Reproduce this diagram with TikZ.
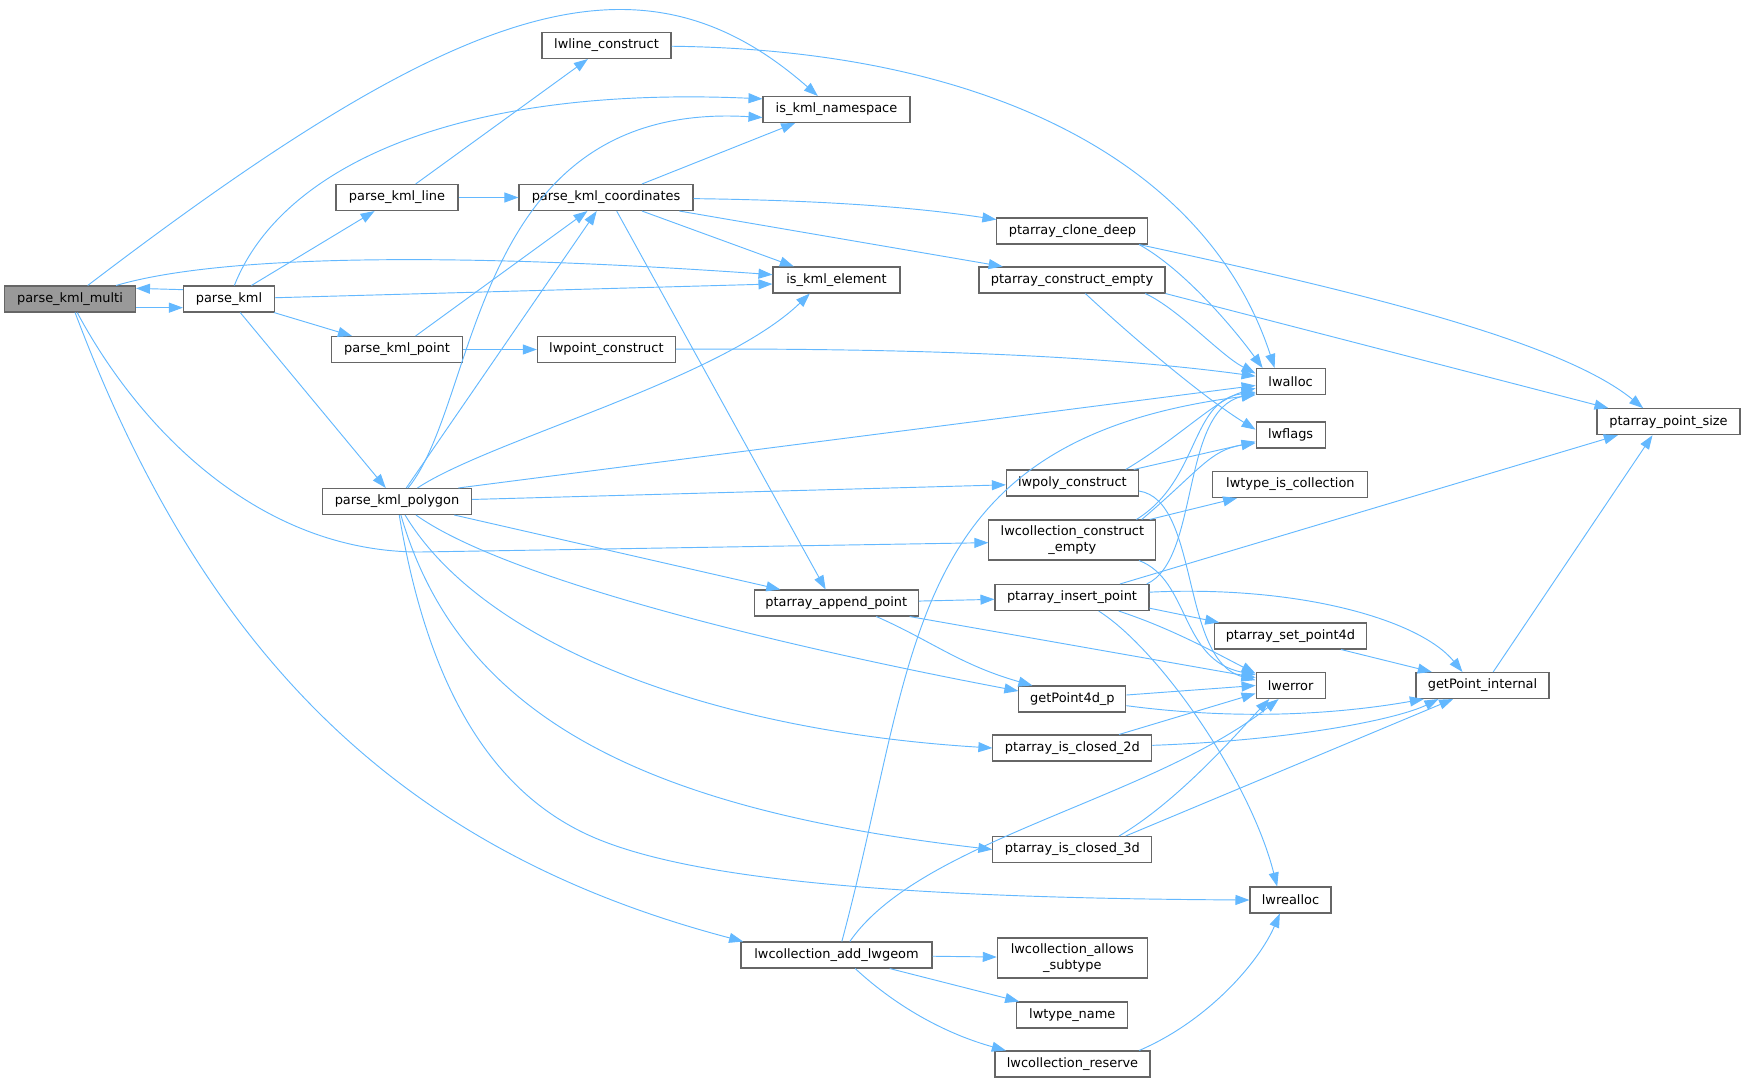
\documentclass[tikz,border=0pt]{standalone}
\usepackage{fontspec}
\setmainfont{DejaVu Sans}
\usetikzlibrary{arrows.meta}
\definecolor{callblue}{HTML}{63B8FF}

\begin{document}
\begin{tikzpicture}[x=0.75pt, y=-0.75pt,
  fn/.style  ={draw=black!60, fill=white, line width=0.8pt, inner sep=0pt,
               minimum height=19.5pt, align=center, font=\fontsize{9.7}{11.5}\selectfont},
  root/.style={fn, fill=black!40},
  bw/.style  ={minimum width=#1*0.75pt},
  tall/.style={minimum height=30pt},
  call/.style={draw=callblue, line width=0.7pt, -{Triangle[length=10.5pt,width=7.5pt]}}]

  \useasboundingbox (0,0) rectangle (1745,1082);

  % ---------------- callers (left) ----------------
  \node[root,bw=131] (multi)  at (70,299)    {parse\_kml\_multi};
  \node[fn,bw=91]    (kml)    at (229,299)   {parse\_kml};
  \node[fn,bw=122]   (kline)  at (397,197.5) {parse\_kml\_line};
  \node[fn,bw=131]   (kpoint) at (397,349.5) {parse\_kml\_point};
  \node[fn,bw=149]   (kpoly)  at (397,501.5) {parse\_kml\_polygon};
  \node[fn,bw=174]   (kcoord) at (606,197.5) {parse\_kml\_coordinates};
  \node[fn,bw=129]   (lwline) at (606.5,45.5){lwline\_construct};
  \node[fn,bw=138]   (lwpoint)at (606.4,349.5){lwpoint\_construct};

  % ---------------- middle column ----------------
  \node[fn,bw=147] (nsp)     at (836.5,109.5) {is\_kml\_namespace};
  \node[fn,bw=127] (elem)    at (836.5,280)   {is\_kml\_element};
  \node[fn,bw=164] (append)  at (836.3,603)   {ptarray\_append\_point};
  \node[fn,bw=191] (addgeom) at (836.5,955)   {lwcollection\_add\_lwgeom};

  \node[fn,bw=151]      (clone)   at (1072.4,231)   {ptarray\_clone\_deep};
  \node[fn,bw=186]      (pce)     at (1072,280)     {ptarray\_construct\_empty};
  \node[fn,bw=132]      (lwpoly)  at (1072.4,483)   {lwpoly\_construct};
  \node[fn,tall,bw=167] (lwce)    at (1072.4,540)   {lwcollection\_construct\\\_empty};
  \node[fn,bw=154]      (insert)  at (1072,597.5)   {ptarray\_insert\_point};
  \node[fn,bw=107]      (gp4d)    at (1072.4,699)   {getPoint4d\_p};
  \node[fn,bw=159]      (closed2) at (1072.4,748)   {ptarray\_is\_closed\_2d};
  \node[fn,bw=159]      (closed3) at (1072.4,849.5) {ptarray\_is\_closed\_3d};
  \node[fn,tall,bw=150] (allows)  at (1072.3,958)   {lwcollection\_allows\\\_subtype};
  \node[fn,bw=111]      (tname)   at (1072.3,1015)  {lwtype\_name};
  \node[fn,bw=155]      (reserve) at (1072.5,1064)  {lwcollection\_reserve};

  % ---------------- leaves (right) ----------------
  \node[fn,bw=69]  (lwalloc)   at (1290.6,381.5) {lwalloc};
  \node[fn,bw=69]  (lwflags)   at (1290.6,435)   {lwflags};
  \node[fn,bw=155] (istype)    at (1290.4,484.5) {lwtype\_is\_collection};
  \node[fn,bw=152] (setp4d)    at (1290.4,636)   {ptarray\_set\_point4d};
  \node[fn,bw=69]  (lwerror)   at (1290.6,685.5) {lwerror};
  \node[fn,bw=81]  (lwrealloc) at (1290.5,900)   {lwrealloc};
  \node[fn,bw=133] (gpint)     at (1482.5,685.5) {getPoint\_internal};
  \node[fn,bw=143] (psize)     at (1668.5,421.7) {ptarray\_point\_size};

  % ---------------- parse_kml_multi ----------------
  \draw[call] (multi) .. controls (462,0) and (640,-60) .. ([xshift=-14pt]nsp.north);
  \draw[call] (multi) .. controls (220,255) and (450,252) .. ([yshift=4pt]elem.west);
  \draw[call] ([yshift=-6.5pt]multi.east) -- ([yshift=-6.5pt]kml.west);
  \draw[call] (multi) .. controls (140,430) and (260,552) .. (420,552) -- ([yshift=-2pt]lwce.west);
  \draw[call] (multi) .. controls (208,666) and (411,854) .. ([xshift=2pt]addgeom.north west);

  % ---------------- parse_kml ----------------
  \draw[call] ([yshift=7pt]kml.west) -- ([yshift=8pt]multi.east);
  \draw[call] (kml) .. controls (280,170) and (450,85) .. ([yshift=8pt]nsp.west);
  \draw[call] (kml) -- (kline);
  \draw[call] (kml) -- ([yshift=-3pt]elem.west);
  \draw[call] (kml) -- (kpoint);
  \draw[call] (kml) -- (kpoly);

  % ---------------- line / point ----------------
  \draw[call] (kline) -- (lwline);
  \draw[call] (kline) -- (kcoord);
  \draw[call] (kpoint) -- (kcoord);
  \draw[call] (kpoint) -- (lwpoint);

  % ---------------- parse_kml_polygon ----------------
  \draw[call] (kpoly) .. controls (480,400) and (470,100) .. ([yshift=-6pt]nsp.west);
  \draw[call] (kpoly) -- (kcoord);
  \draw[call] (kpoly) .. controls (490,440) and (720,380) .. ([xshift=-20pt]elem.south);
  \draw[call] ([xshift=46pt]kpoly.north) -- ([yshift=-3pt]lwalloc.west);
  \draw[call] (kpoly) -- (lwpoly);
  \draw[call] ([xshift=43pt]kpoly.south) -- ([xshift=-42pt]append.north);
  \draw[call] (kpoly) .. controls (500,575) and (750,640) .. ([yshift=6pt]gp4d.west);
  \draw[call] (kpoly) .. controls (480,640) and (700,730) .. (closed2.west);
  \draw[call] (kpoly) .. controls (460,720) and (650,810) .. (closed3.west);
  \draw[call] (kpoly) .. controls (430,700) and (500,800) .. (600,840)
                      .. controls (700,880) and (900,898) .. (lwrealloc.west);

  % ---------------- parse_kml_coordinates ----------------
  \draw[call] ([xshift=27pt]kcoord.north) -- ([xshift=-31pt]nsp.south);
  \draw[call] (kcoord) .. controls (800,200) and (900,205) .. (clone);
  \draw[call] ([xshift=27pt]kcoord.south) -- ([xshift=-32pt]elem.north);
  \draw[call] ([xshift=55pt]kcoord.south) -- ([xshift=-52pt]pce.north);
  \draw[call] ([xshift=8pt]kcoord.south) -- ([xshift=-8pt]append.north);

  % ---------------- constructors ----------------
  \draw[call] (lwline) .. controls (1000,50) and (1210,170) .. ([xshift=-12pt]lwalloc.north);
  \draw[call] (lwpoint) .. controls (900,348) and (1100,355) .. ([yshift=4pt]lwalloc.west);
  \draw[call] ([xshift=50pt]clone.south) .. controls (1185,270) and (1235,330) .. ([xshift=-21pt]lwalloc.north);
  \draw[call] ([xshift=50pt]clone.south) .. controls (1350,290) and (1560,340) .. ([xshift=-19pt]psize.north);
  \draw[call] ([xshift=55pt]pce.south) .. controls (1180,310) and (1220,355) .. ([yshift=6pt]lwalloc.west);
  \draw[call] (pce.south east) -- ([xshift=-45pt]psize.north);
  \draw[call] ([xshift=10pt]pce.south) .. controls (1130,335) and (1200,395) .. ([yshift=4pt]lwflags.west);
  \draw[call] ([xshift=40pt]lwpoly.north) .. controls (1180,437) and (1215,400) .. ([yshift=-5pt]lwalloc.west);
  \draw[call] ([xshift=46pt]lwpoly.north) -- ([yshift=-5pt]lwflags.west);
  \draw[call] ([yshift=-6pt]lwpoly.east) .. controls (1200,500) and (1180,660) .. ([yshift=4pt]lwerror.west);
  \draw[call] ([xshift=48pt]lwce.north) .. controls (1200,480) and (1190,400) .. ([yshift=-8pt]lwalloc.west);
  \draw[call] ([xshift=52pt]lwce.north) .. controls (1200,470) and (1210,450) .. ([yshift=-6pt]lwflags.west);
  \draw[call] ([xshift=58pt]lwce.north) -- ([xshift=-40pt]istype.south);
  \draw[call] ([xshift=50pt]lwce.south) .. controls (1190,580) and (1180,660) .. ([yshift=8pt]lwerror.west);

  % ---------------- point arrays ----------------
  \draw[call] (append) -- (insert);
  \draw[call] ([xshift=30pt]append.south) .. controls (930,640) and (960,665) .. ([xshift=-30pt]gp4d.north);
  \draw[call] ([xshift=55pt]append.south) -- ([yshift=6pt]lwerror.west);
  \draw[call] ([xshift=56pt]insert.north) .. controls (1200,560) and (1180,410) .. ([yshift=-9pt]lwalloc.west);
  \draw[call] ([xshift=36pt]insert.north) -- ([xshift=-38pt]psize.south);
  \draw[call] ([yshift=4pt]insert.east) .. controls (1300,585) and (1420,620) .. ([xshift=-15pt]gpint.north);
  \draw[call] ([yshift=-8pt]insert.east) -- ([xshift=4pt]setp4d.north west);
  \draw[call] ([xshift=35pt]insert.south) .. controls (1170,628) and (1210,650) .. ([yshift=9pt]lwerror.west);
  \draw[call] ([xshift=20pt]insert.south) .. controls (1160,650) and (1250,780) .. ([xshift=-10pt]lwrealloc.north);
  \draw[call] ([yshift=3pt]gp4d.east) -- (lwerror.west);
  \draw[call] ([yshift=-5pt]gp4d.east) .. controls (1250,722) and (1350,712) .. ([xshift=-44pt]gpint.south);
  \draw[call] ([xshift=35pt]closed2.north) -- ([yshift=-6pt]lwerror.west);
  \draw[call] ([yshift=2pt]closed2.east) .. controls (1300,740) and (1400,718) .. ([xshift=-33pt]gpint.south);
  \draw[call] ([xshift=35pt]closed3.north) .. controls (1180,800) and (1240,730) .. ([xshift=-16pt]lwerror.south);
  \draw[call] ([xshift=40pt]closed3.north) -- ([xshift=-22pt]gpint.south);
  \draw[call] ([xshift=38pt]setp4d.south) -- ([xshift=-38pt]gpint.north);
  \draw[call] ([xshift=8pt]gpint.north) -- ([xshift=-12pt]psize.south);

  % ---------------- lwcollection_add_lwgeom ----------------
  \draw[call] ([xshift=4pt]addgeom.north) .. controls (920,650) and (900,440) .. ([yshift=-10pt]lwalloc.west);
  \draw[call] ([xshift=10pt]addgeom.north) .. controls (920,840) and (1150,800) .. ([xshift=-9pt]lwerror.south);
  \draw[call] (addgeom) -- (allows);
  \draw[call] (addgeom) -- (tname);
  \draw[call] ([xshift=14pt]addgeom.south) .. controls (900,1010) and (950,1035) .. ([xshift=-50pt]reserve.north);
  \draw[call] ([xshift=50pt]reserve.north) .. controls (1210,1020) and (1260,960) .. ([xshift=-8pt]lwrealloc.south);
\end{tikzpicture}
\end{document}
